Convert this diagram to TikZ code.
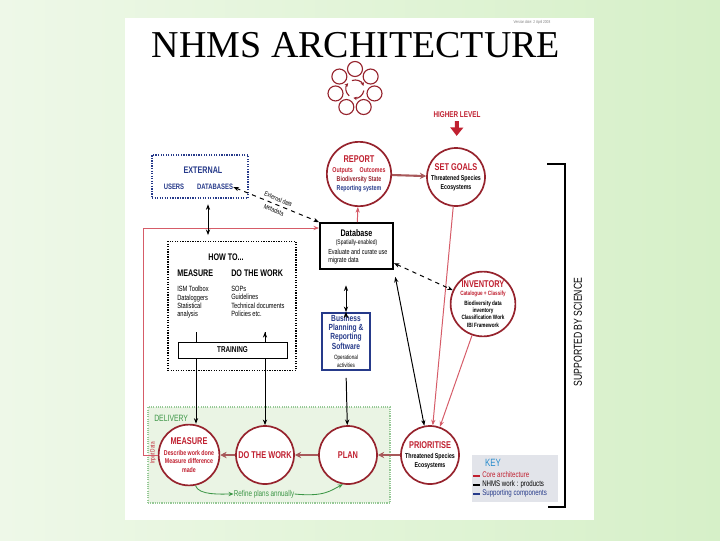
\documentclass[tikz,border=0pt]{standalone}
\usepackage{fontspec}
\setmainfont{Liberation Sans}[FakeStretch=0.75]
\newfontfamily\titlefont{Liberation Serif}
\usetikzlibrary{arrows.meta}
\usetikzlibrary{positioning}
\definecolor{bglight}  {RGB}{238,248,232}
\definecolor{bgdark}   {RGB}{214,240,200}
\definecolor{nhmaroon} {RGB}{150,35,45}
\definecolor{nhred}    {RGB}{192,32,48}
\definecolor{nhpink}   {RGB}{214,92,104}
\definecolor{nhflow}   {RGB}{168,88,90}
\definecolor{nhblue}   {RGB}{38,58,138}
\definecolor{nhsky}    {RGB}{40,140,205}
\definecolor{nhgreen}  {RGB}{60,150,70}
\definecolor{nhdelfill}{RGB}{234,244,228}
\definecolor{nhdeledge}{RGB}{150,200,150}
\definecolor{nhkey}    {RGB}{226,228,234}
\tikzset{core circle/.style={
    circle, draw=nhmaroon, line width=1.2pt, fill=white,
    inner sep=0pt, minimum size=1.45cm,
    align=center, font=\fontsize{5}{5.9}\selectfont\bfseries
}}
\tikzset{inventory circle/.style={
    core circle, minimum size=1.35cm,
    font=\fontsize{4.4}{5.1}\selectfont\bfseries
}}
\tikzset{plain box/.style={
    rectangle, inner sep=0pt
}}
\tikzset{external box/.style={
    draw=nhblue, line width=0.9pt, dash pattern=on 0.9pt off 0.9pt,
    minimum width=2.4cm, minimum height=1.075cm, inner sep=0pt
}}
\tikzset{howto box/.style={
    draw=black, line width=1.1pt, dash pattern=on 0.9pt off 0.9pt,
    minimum width=3.2cm, minimum height=3.225cm, inner sep=0pt
}}
\tikzset{training box/.style={
    draw=black, line width=0.5pt, fill=white,
    minimum width=2.725cm, minimum height=0.4cm, inner sep=0pt,
    font=\fontsize{6}{7}\selectfont\bfseries
}}
\tikzset{database box/.style={
    draw=black, line width=1.3pt, fill=white,
    minimum width=1.825cm, minimum height=1.15cm, inner sep=0pt
}}
\tikzset{business box/.style={
    draw=nhblue, line width=1.2pt, fill=white,
    minimum width=1.2cm, minimum height=1.425cm, inner sep=0pt,
    align=center, text=nhblue, font=\fontsize{6.3}{5.9}\selectfont\bfseries
}}
\tikzset{delivery area/.style={
    draw=nhdeledge, fill=nhdelfill, line width=0.8pt,
    dash pattern=on 0.8pt off 0.8pt,
    minimum width=6.05cm, minimum height=2.4cm, inner sep=0pt
}}
\tikzset{key box/.style={
    fill=nhkey, minimum width=2.15cm, minimum height=1.175cm, inner sep=0pt
}}
\tikzset{head text/.style={
    inner sep=0pt, font=\fontsize{6.8}{8}\selectfont\bfseries
}}
\tikzset{list text/.style={
    inner sep=0pt, align=left, font=\fontsize{5.4}{5.9}\selectfont
}}
\tikzset{small text/.style={
    inner sep=0pt, align=center, font=\fontsize{4.7}{5.4}\selectfont
}}
\tikzset{key text/.style={
    inner sep=0pt, font=\fontsize{5.8}{6}\selectfont
}}
\tikzset{icon line/.style={
    draw=nhmaroon, line width=0.8pt
}}
\tikzset{core link/.style={
    draw=nhpink, line width=0.7pt, -{Stealth[length=4pt,width=3pt]}
}}
\tikzset{flow link/.style={
    draw=nhflow, line width=1.5pt, -{Stealth[length=4.5pt,width=4.5pt]}
}}
\tikzset{work link/.style={
    draw=black, line width=0.7pt, >={Stealth[length=4pt,width=3pt]}
}}
\tikzset{refine link/.style={
    draw=nhgreen, line width=0.6pt, -{Stealth[length=3.5pt,width=3pt]}
}}
\newcommand{\circlehead}[1]{{\fontsize{7}{8}\selectfont\bfseries\color{nhred}#1}}

\begin{document}
\begin{tikzpicture}[x=0.025cm, y=-0.025cm]
    \useasboundingbox (0,0) rectangle (720,540);
    \shade [left color=bglight, right color=bgdark] (0,0) rectangle (720,540);
    \fill [white] (125,18) rectangle (594,520);

    \node (version) [plain box, text=gray, font=\fontsize{3}{3}\selectfont] at (532,22) {Version date: 2 April 2008};
    \node (title)   [plain box, font=\titlefont\fontsize{27}{27}\selectfont, anchor=base] at (356,57) {NHMS ARCHITECTURE};

    % cycle logo
    \coordinate (icon) at (355,89);
    \foreach \k in {0,...,6}
        \draw [icon line] (icon) ++(270+\k*360/7:20) circle (7.5);
    \foreach \s in {10,130,250}
        \draw [icon line, -{Stealth[length=2.5pt,width=2.5pt]}] (icon) ++(\s:9) arc [start angle=\s, end angle=\s+90, radius=9];

    % delivery area
    \node (delivery)      [delivery area] at (269,455) {};
    \node (deliverylabel) [plain box, text=nhgreen, font=\fontsize{6.5}{7}\selectfont, anchor=west] at (154,418) {DELIVERY};

    % core circles
    \node (report)     [core circle]      at (359,174) {\circlehead{REPORT}\\[1.5pt]{\color{nhred}Outputs\quad Outcomes}\\{\color{nhmaroon}Biodiversity State}\\[1pt]{\color{nhblue}Reporting system}};
    \node (setgoals)   [core circle]      at (456,177) {\circlehead{SET GOALS}\\[1.5pt]Threatened Species\\Ecosystems};
    \node (inventory)  [inventory circle] at (483,304) {\circlehead{INVENTORY}\\[0.5pt]{\color{nhred}Catalogue + Classify}\\[2pt]Biodiversity data\\inventory\\Classification Work\\IBI Framework};
    \node (prioritise) [core circle]      at (430,455) {\circlehead{PRIORITISE}\\[1.5pt]Threatened Species\\Ecosystems};
    \node (plan)       [core circle]      at (348,455) {\circlehead{PLAN}};
    \node (work)       [core circle]      at (265,455) {\circlehead{DO THE WORK}};
    \node (measure)    [core circle]      at (189,455) {\circlehead{MEASURE}\\[2pt]{\color{nhred}Describe work done}\\{\color{nhred}Measure difference}\\{\color{nhred}made}};

    % boxes
    \node (external)  [external box] at (200,176.5) {};
    \node (exthead)   [head text, text=nhblue] at (203,170) {EXTERNAL};
    \node (users)     [plain box, text=nhblue, font=\fontsize{5.6}{6}\selectfont\bfseries] at (174,187) {USERS};
    \node (databases) [plain box, text=nhblue, font=\fontsize{5.6}{6}\selectfont\bfseries] at (215,187) {DATABASES};

    \node (howto)       [howto box] at (232,306) {};
    \node (howtohead)   [head text] at (226,257) {HOW TO...};
    \node (measurehead) [head text, anchor=west] at (177,273) {MEASURE};
    \node (workhead)    [head text, anchor=west] at (231,273) {DO THE WORK};
    \node (measurelist) [list text, anchor=north west] at (177,286) {ISM Toolbox\\Dataloggers\\Statistical\\analysis};
    \node (worklist)    [list text, anchor=north west] at (231,286) {SOPs\\Guidelines\\Technical documents\\Policies etc.};

    \node (database) [database box] at (356.5,246) {};
    \node (dbhead)   [plain box, font=\fontsize{6.8}{7}\selectfont\bfseries] at (356.5,233) {Database};
    \node (dbsub)    [small text] at (356.5,243) {(Spatially-enabled)};
    \node (dbnote)   [small text, align=left, anchor=north west, font=\fontsize{5.2}{5.4}\selectfont] at (328,249) {Evaluate and curate use\\migrate data};

    \node (business) [business box] at (346,341.5) {Business\\Planning \&\\Reporting\\Software\\[1pt]{\fontsize{4.4}{5}\selectfont\mdseries\color{black}Operational}\\{\fontsize{4.4}{5}\selectfont\mdseries\color{black}activities}};

    % key
    \node (keybox)     [key box] at (515,478.5) {};
    \node (keyhead)    [plain box, text=nhsky, font=\fontsize{7.5}{8}\selectfont] at (493,463) {KEY};
    \node (keycore)    [key text, text=nhred, anchor=west]  at (482,475) {Core architecture};
    \node (keywork)    [key text, anchor=west]              at (482,484) {NHMS work : products};
    \node (keysupport) [key text, text=nhblue, anchor=west] at (482,493) {Supporting components};
    \draw [nhred, line width=1.2pt]  (473,476) -- (480,476);
    \draw [black, line width=1.2pt]  (473,485) -- (480,485);
    \draw [nhblue, line width=1.2pt] (473,494) -- (480,494);

    % side labels
    \node (higher)     [plain box, text=nhred, font=\fontsize{6}{7}\selectfont\bfseries] at (457,115) {HIGHER LEVEL};
    \node (science)    [plain box, rotate=90, font=\fontsize{8.2}{9}\selectfont] at (578,332) {SUPPORTED BY SCIENCE};
    \draw [line width=0.9pt] (547,164) -| (565,507) -- (548,507);
    \node (inputlabel) [plain box, rotate=90, text=nhred, font=\fontsize{4.5}{5}\selectfont] at (153,453) {Input Data};
    \node (refine)     [plain box, text=nhgreen, font=\fontsize{6}{7}\selectfont] at (264,494) {Refine plans annually};

    \coordinate (inputleft)   at (143,455);
    \coordinate (inputtop)    at (143,228);
    \coordinate (extlink)     at (208,200);
    \coordinate (measureline) at (196,332);
    \coordinate (workline)    at (265,332);

    % edges
    \path [core link]
      (database) edge (report)
      (setgoals) edge (prioritise)
      (inventory) edge (prioritise)
      ;
    \draw [core link] (measure.west) -- (inputleft) -- (inputtop) -- (inputtop -| database.west);
    \path [flow link]
      (report) edge (setgoals)
      (prioritise) edge (plan)
      (plan) edge (work)
      (work) edge (measure)
      ;
    \draw [nhred, line width=2.8pt, -{Triangle[length=6pt,width=9pt]}, shorten <=2pt, shorten >=8pt] (higher) -- (setgoals);
    \path [work link, <->]
      (external.south -| extlink) edge [shorten <=4pt, shorten >=4pt] (howto.north -| extlink)
      (databases.east) edge [dashed] node [sloped, small text] {External data\\[3pt]Metadata} (database.north west)
      (database) edge [dashed] (inventory)
      (database.south east) edge [shorten <=5pt] (prioritise)
      (business.north) edge [shorten >=11pt] (business.north |- database.south)
      ;
    \path [work link, ->]
      (business.south) edge [shorten <=5pt] (plan)
      (measureline) edge (measureline |- measure.north)
      (workline) edge (workline |- work.north)
      ;
    \draw [refine link] (measure.-78) .. controls +(3,10) and +(-12,0) .. (refine.west);
    \draw [refine link] (refine.east) .. controls +(30,3) and +(-12,6) .. (plan.-100);

    \node (training) [training box] at (232.5,350) {TRAINING};
\end{tikzpicture}
\end{document}
